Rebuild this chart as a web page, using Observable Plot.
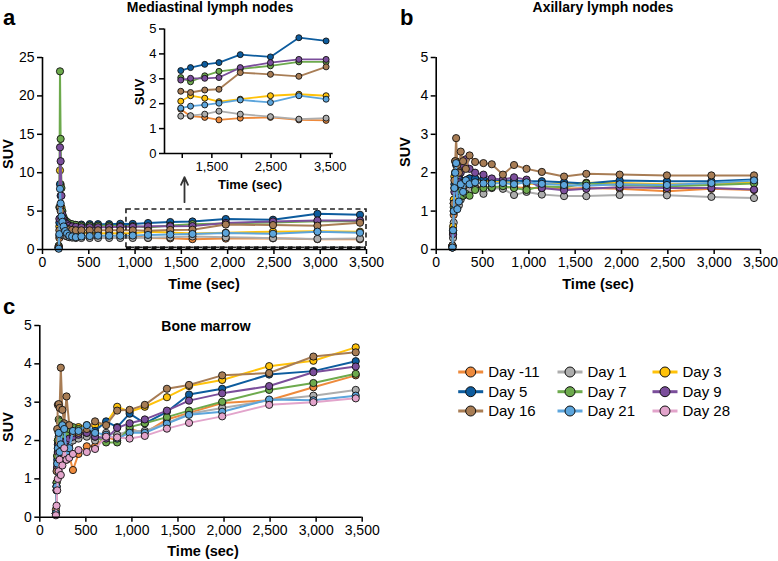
<!DOCTYPE html>
<html><head><meta charset="utf-8">
<script src="https://cdn.jsdelivr.net/npm/d3@7"></script>
<script src="https://cdn.jsdelivr.net/npm/@observablehq/plot@0.6"></script>
<style>
body{margin:0;background:#fff;}
#wrap{position:relative;width:778px;height:561px;overflow:hidden;font-family:"Liberation Sans",Arial,sans-serif;}
#wrap > svg{position:absolute;}
g[aria-label="x-axis tick"], g[aria-label="y-axis tick"]{stroke-width:1.5px;}
</style></head><body><div id="wrap"></div>
<script>
// ---------- DATA ----------
const times = [175, 182, 189, 196, 205, 215, 228, 245, 265, 290, 320, 360, 420, 510, 600, 720, 840, 975, 1140, 1380, 1620, 1980, 2490, 2970, 3430];
const seriesNames = ["Day -11","Day 1","Day 3","Day 5","Day 7","Day 9","Day 16","Day 21","Day 28"];
const seriesColors = ["#EE8A3C","#ADADAD","#FFC20A","#0D5C9E","#6DAA4D","#7B4E9B","#A87D55","#5CA5DC","#E2A4CB"];

// Mediastinal lymph nodes (Day -11 .. Day 21)
const medDayM11 = [0.2,1.5,3.5,3.0,2.5,2.2,2.0,1.9,1.85,1.8,1.8,1.8,1.8,1.8,1.8,1.8,1.8,1.78,1.50,1.45,1.35,1.42,1.45,1.35,1.33];
const medDay1   = [0.2,1.8,4.0,3.5,2.8,2.3,2.0,1.8,1.7,1.6,1.55,1.5,1.5,1.5,1.5,1.5,1.5,1.50,1.52,1.58,1.70,1.58,1.48,1.38,1.42];
const medDay3   = [0.2,3.0,10.3,8.5,5.5,3.8,3.2,2.8,2.6,2.4,2.3,2.2,2.2,2.15,2.1,2.1,2.1,2.10,2.32,2.22,2.08,2.18,2.32,2.38,2.32];
const medDay5   = [0.4,3.5,8.5,7.0,5.0,4.0,3.6,3.4,3.3,3.2,3.2,3.2,3.25,3.3,3.3,3.3,3.35,3.33,3.45,3.58,3.65,3.97,3.88,4.65,4.52];
const medDay7   = [0.5,5.5,23.2,14.4,8.0,5.0,4.2,3.8,3.6,3.4,3.3,3.2,3.1,3.1,3.1,3.1,3.05,3.05,2.88,3.12,3.30,3.40,3.52,3.68,3.68];
const medDay9   = [0.3,4.0,13.3,11.5,7.0,4.6,3.9,3.5,3.3,3.1,3.0,2.95,2.9,2.9,2.9,2.9,2.95,2.95,3.02,3.02,3.05,3.45,3.65,3.78,3.78];
const medDay16  = [0.3,2.5,5.5,5.0,4.0,3.4,3.0,2.8,2.7,2.6,2.55,2.5,2.5,2.5,2.5,2.5,2.5,2.50,2.45,2.55,2.58,3.25,3.18,3.10,3.48];
const medDay21  = [0.1,2.0,7.9,6.0,4.3,3.6,3.0,2.4,2.1,1.8,1.7,1.6,1.7,1.75,1.8,1.8,1.8,1.82,1.90,1.95,2.02,2.15,2.05,2.32,2.18];

// Axillary lymph nodes (Day -11 .. Day 21)
const axDayM11 = [0.05,0.4,0.9,1.3,1.5,1.6,1.55,1.5,1.45,1.5,1.55,1.6,1.62,1.62,1.62,1.63,1.62,1.6,1.6,1.58,1.6,1.58,1.52,1.58,1.55];
const axDay1   = [0.05,0.3,0.7,1.0,1.1,1.2,1.1,1.15,1.3,1.4,1.5,1.55,1.6,1.45,1.6,1.58,1.42,1.5,1.43,1.39,1.39,1.42,1.41,1.37,1.34];
const axDay3   = [0.1,0.6,1.3,1.9,2.3,2.25,2.1,1.9,1.8,1.75,1.8,1.85,1.85,1.8,1.78,1.75,1.75,1.72,1.7,1.72,1.74,1.73,1.7,1.72,1.75];
const axDay5   = [0.1,0.5,1.2,1.7,2.0,2.2,2.0,1.85,1.8,1.75,1.8,1.85,1.85,1.85,1.82,1.8,1.8,1.78,1.78,1.75,1.72,1.8,1.78,1.78,1.82];
const axDay7   = [0.1,0.5,1.1,1.6,2.0,2.3,1.9,1.7,1.5,1.4,1.45,1.4,1.55,1.6,1.62,1.65,1.6,1.55,1.65,1.62,1.72,1.68,1.65,1.68,1.72];
const axDay9   = [0.1,0.4,1.0,1.5,1.8,2.0,1.7,1.75,2.0,2.2,2.35,2.1,2.0,1.95,1.85,1.82,1.88,1.82,1.6,1.54,1.58,1.62,1.6,1.6,1.56];
const axDay16  = [0.1,0.5,1.2,1.8,2.3,2.9,2.2,2.0,2.55,2.3,2.1,2.45,2.28,2.25,2.22,1.95,2.2,2.1,2.02,1.9,1.97,1.95,1.93,1.93,1.93];
const axDay21  = [0.05,0.5,1.0,1.6,2.0,2.25,1.05,1.25,1.7,1.5,1.8,1.7,1.75,1.72,1.72,1.73,1.7,1.75,1.71,1.68,1.66,1.70,1.68,1.73,1.80];

// Bone marrow (Day -11 .. Day 28)
const bmDayM11 = [0.1,0.7,1.3,1.7,1.9,2.0,1.75,1.6,1.7,1.5,1.6,1.23,1.65,1.85,1.85,2.1,2.0,2.3,2.2,2.55,2.72,2.98,3.05,3.39,3.70];
const bmDay1   = [0.1,0.8,1.4,1.8,2.0,2.1,1.9,1.8,1.7,1.85,1.9,2.0,2.05,2.1,2.0,2.2,2.15,2.25,2.25,2.45,2.70,2.85,3.05,3.17,3.32];
const bmDay3   = [0.1,0.9,1.6,2.0,2.2,2.3,2.1,2.0,2.2,2.1,2.25,2.3,2.35,2.4,2.4,2.45,2.88,2.75,2.88,3.13,3.42,3.58,3.94,4.08,4.43];
const bmDay5   = [0.1,0.8,1.5,1.9,2.1,2.2,2.0,1.9,2.0,2.1,2.15,2.2,2.2,2.25,2.25,2.5,2.35,2.70,2.45,2.75,3.20,3.35,3.72,3.81,4.07];
const bmDay7   = [0.1,0.9,1.6,2.0,2.55,2.5,2.2,2.0,2.1,2.2,2.3,2.35,2.3,2.2,2.1,1.95,1.95,2.35,2.45,2.61,2.78,3.01,3.32,3.50,3.74];
const bmDay9   = [0.1,0.7,1.3,1.7,1.9,2.0,1.8,1.7,1.9,2.0,2.05,2.1,2.15,2.2,2.1,2.05,2.33,2.45,2.55,2.78,3.04,3.23,3.42,3.78,3.93];
const bmDay16  = [0.2,1.2,2.3,2.93,2.95,2.85,3.9,2.8,2.45,3.15,2.4,2.2,2.2,2.3,2.5,2.4,2.78,2.8,2.93,3.35,3.45,3.70,3.76,4.19,4.30];
const bmDay21  = [0.1,0.8,1.4,1.8,2.2,1.7,1.9,2.4,2.3,1.65,1.8,2.25,2.25,2.4,2.2,2.15,2.05,2.2,2.2,2.44,2.67,2.75,3.07,3.05,3.17];
const bmDay28  = [0.05,0.3,0.7,1.0,1.2,1.5,1.1,1.35,1.8,1.5,1.55,1.65,1.75,1.7,1.78,2.1,2.08,2.05,2.12,2.31,2.46,2.63,2.93,3.00,3.10];

// Axis ticks
const xTicksMain = [0,500,1000,1500,2000,2500,3000,3500];
const yTicksMed = [0,5,10,15,20,25];
const yTicks5 = [0,1,2,3,4,5];
const xTicksInset = [1000,1500,2000,2500,3000,3500];
const xTickLabelsInset = [1500,2500,3500];
const insetMinTime = 900;

// Annotations (data units of panel a)
const zoomBoxX = [907, 3500];
const zoomBoxY = [0.22, 5.2];
const arrowX = [1534];
const arrowY = [6.16, 9.41];

// ---------- DRAWING ----------
const wrap = document.getElementById("wrap");
const fmt = d3.format(",");
const FONT = '"Liberation Sans", Arial, Helvetica, sans-serif';

function tidy(arrs, minT = -Infinity) {
  return arrs.map((vals, i) => vals.map((v, j) => ({series: seriesNames[i], color: seriesColors[i], t: times[j], v}))
    .filter(d => d.t >= minT));
}

function seriesMarks(groups, r, lw) {
  const m = [];
  groups.forEach(g => {
    const c = g[0].color;
    m.push(Plot.line(g, {x: "t", y: "v", stroke: c, strokeWidth: lw}));
    m.push(Plot.dot(g, {x: "t", y: "v", r, fill: c, stroke: "#111", strokeWidth: 0.9}));
  });
  return m;
}

function place(svg, left, top) {
  svg.style.left = left + "px";
  svg.style.top = top + "px";
  wrap.appendChild(svg);
}

function panel(o) {
  const groups = tidy(o.arrs, o.minT);
  const marks = [
    ...(o.pre || []),
    ...seriesMarks(groups, o.r, o.lw),
    Plot.ruleY([o.yDomain[0]], {stroke: "#000", strokeWidth: 1.6}),
    Plot.ruleX([o.xDomain[0]], {stroke: "#000", strokeWidth: 1.6}),
    ...(o.post || [])
  ];
  return Plot.plot({
    width: o.width, height: o.height,
    marginLeft: o.ml, marginRight: o.mr, marginTop: o.mt, marginBottom: o.mb,
    style: {fontFamily: FONT, fontSize: o.fs + "px", color: "#000", background: "none", overflow: "visible"},
    x: {domain: o.xDomain, ticks: o.xTicks, tickFormat: o.xFmt || fmt, label: null, tickSize: 5, tickPadding: 3},
    y: {domain: o.yDomain, ticks: o.yTicks, tickFormat: fmt, label: null, tickSize: 5, tickPadding: 3},
    marks
  });
}

// Panel a
place(panel({
  arrs: [medDayM11, medDay1, medDay3, medDay5, medDay7, medDay9, medDay16, medDay21],
  width: 390, height: 280, ml: 42, mr: 24, mt: 57, mb: 31, fs: 14,
  xDomain: [0, 3500], yDomain: [0, 25], xTicks: xTicksMain, yTicks: yTicksMed, r: 3.6, lw: 2,
  post: [
    Plot.rect([{x1: zoomBoxX[0], x2: zoomBoxX[1], y1: zoomBoxY[0], y2: zoomBoxY[1]}],
      {x1: "x1", x2: "x2", y1: "y1", y2: "y2", fill: "none", stroke: "#222", strokeWidth: 1.6, strokeDasharray: "5,3.5"}),
    Plot.ruleY([zoomBoxY[0]], {x1: zoomBoxX[0], x2: zoomBoxX[1], stroke: "#111", strokeWidth: 3, strokeDasharray: "5,3.5"}),
    Plot.arrow([{x: arrowX[0], y1: arrowY[0], y2: arrowY[1]}],
      {x1: "x", x2: "x", y1: "y1", y2: "y2", stroke: "#333", strokeWidth: 1.8, headLength: 9, headAngle: 50})
  ]
}), 0, 0);

// Inset
place(panel({
  arrs: [medDayM11, medDay1, medDay3, medDay5, medDay7, medDay9, medDay16, medDay21], minT: insetMinTime,
  width: 220, height: 180, ml: 44, mr: 7.3, mt: 8.5, mb: 47, fs: 13,
  xDomain: [700, 3550], yDomain: [0, 5], xTicks: xTicksInset, yTicks: yTicks5, r: 3, lw: 1.8,
  xFmt: d => xTickLabelsInset.includes(d) ? fmt(d) : ""
}), 120, 20);

// Panel b
place(panel({
  arrs: [axDayM11, axDay1, axDay3, axDay5, axDay7, axDay9, axDay16, axDay21],
  width: 388, height: 280, ml: 45.7, mr: 18, mt: 57, mb: 31, fs: 14,
  xDomain: [0, 3500], yDomain: [0, 5], xTicks: xTicksMain, yTicks: yTicks5, r: 3.6, lw: 2
}), 390, 0);

// Panel c
place(panel({
  arrs: [bmDayM11, bmDay1, bmDay3, bmDay5, bmDay7, bmDay9, bmDay16, bmDay21, bmDay28],
  width: 390, height: 281, ml: 39.3, mr: 28.3, mt: 45, mb: 44.3, fs: 14,
  xDomain: [0, 3500], yDomain: [0, 5], xTicks: xTicksMain, yTicks: yTicks5, r: 3.6, lw: 2
}), 0, 280);

// Text overlay + legend
const ov = d3.create("svg").attr("width", 778).attr("height", 561)
  .style("left", "0px").style("top", "0px")
  .attr("font-family", FONT).attr("fill", "#000");
function txt(x, y, s, size, weight, anchor = "middle", rot = 0) {
  const t = ov.append("text").text(s).attr("font-size", size).attr("font-weight", weight).attr("text-anchor", anchor);
  if (rot) t.attr("transform", `translate(${x},${y}) rotate(${rot})`);
  else t.attr("x", x).attr("y", y);
}
txt(3, 25, "a", 22, "bold", "start");
txt(400, 25, "b", 22, "bold", "start");
txt(3, 314, "c", 22, "bold", "start");
txt(210, 12, "Mediastinal lymph nodes", 14, "bold");
txt(603, 12, "Axillary lymph nodes", 14, "bold");
txt(206, 331, "Bone marrow", 14, "bold");
txt(13, 154, "SUV", 14.5, "bold", "middle", -90);
txt(410, 152, "SUV", 14.5, "bold", "middle", -90);
txt(13, 427, "SUV", 14.5, "bold", "middle", -90);
txt(143.5, 92, "SUV", 13, "bold", "middle", -90);
txt(204, 289, "Time (sec)", 14.5, "bold");
txt(598, 289, "Time (sec)", 14.5, "bold");
txt(203, 556, "Time (sec)", 14.5, "bold");
txt(250, 189, "Time (sec)", 13, "bold");

const legCols = [470.7, 570, 665];
const legRows = [372, 391.7, 411];
seriesNames.forEach((name, i) => {
  const cx = legCols[i % 3], cy = legRows[Math.floor(i / 3)];
  ov.append("line").attr("x1", cx - 12.5).attr("x2", cx + 12.5).attr("y1", cy).attr("y2", cy)
    .attr("stroke", seriesColors[i]).attr("stroke-width", 3);
  ov.append("circle").attr("cx", cx).attr("cy", cy).attr("r", 5)
    .attr("fill", seriesColors[i]).attr("stroke", "#111").attr("stroke-width", 1);
  ov.append("text").attr("x", cx + 17.5).attr("y", cy + 5.3).attr("font-size", 15).text(name);
});
place(ov.node(), 0, 0);
</script>
</body></html>
